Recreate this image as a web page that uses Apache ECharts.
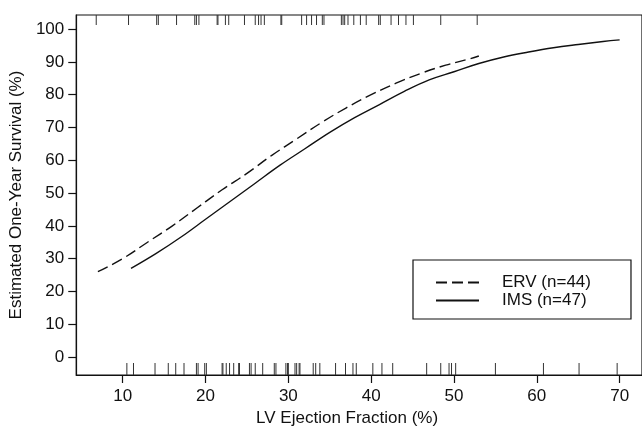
<!DOCTYPE html>
<html>
<head>
<meta charset="utf-8">
<script src="https://cdn.jsdelivr.net/npm/echarts@6/dist/echarts.min.js"></script>
<style>html,body{margin:0;padding:0;background:#fff}#c{width:642px;height:438px}</style>
</head>
<body>
<div id="c"></div>
<script>
// ---- data ----
const xTicks = [10, 20, 30, 40, 50, 60, 70];
const yTicks = [0, 10, 20, 30, 40, 50, 60, 70, 80, 90, 100];
const ervX = [7, 10, 13, 16, 19, 22, 25, 28, 31, 34, 37, 40, 43, 46, 49, 52, 53];
const ervY = [26, 30, 35, 40, 45.5, 51, 56, 61.5, 66.5, 71.5, 76, 80, 83.5, 86.5, 89, 91, 91.8];
const imsX = [11, 14, 17, 20, 23, 26, 29, 32, 35, 38, 41, 44, 47, 50, 53, 56, 59, 62, 65, 68, 70];
const imsY = [27, 31.5, 36.5, 42, 47.5, 53, 58.5, 63.5, 68.5, 73, 77, 81, 84.5, 87, 89.5, 91.5, 93, 94.3, 95.3, 96.2, 96.7];
const topRug = [6.8, 10.7, 14.1, 14.3, 16.5, 18.7, 18.9, 19.2, 21.4, 21.5, 22.4, 22.8, 24.7, 26.0, 26.4, 26.7, 27.1, 29.1, 29.2, 31.6, 32.2, 32.8, 33.4, 34.1, 34.3, 36.4, 36.6, 36.8, 37.2, 37.9, 38.7, 39.4, 40.9, 41.1, 42.4, 43.3, 44.2, 45.1, 48.4, 52.8];
const bottomRug = [10.5, 11.3, 13.9, 15.5, 16.4, 17.4, 18.9, 19.1, 19.9, 20.1, 22.0, 22.1, 22.5, 22.9, 23.4, 24.0, 24.1, 25.3, 25.5, 26.0, 26.9, 28.3, 28.5, 29.7, 29.9, 30.0, 30.8, 31.0, 31.3, 31.4, 33.0, 33.3, 33.8, 35.7, 36.9, 37.8, 38.2, 40.2, 41.3, 42.6, 46.7, 48.4, 49.4, 49.7, 50.2, 55.0, 60.8, 65.1, 69.7];
const seriesNames = ['ERV (n=44)', 'IMS (n=47)'];

// ---- chart ----
const X_MIN = 4.39, X_MAX = 72.7, Y_MIN = -5.5, Y_MAX = 104.3;
const FONT = 'Liberation Sans, Arial, Helvetica, sans-serif';
const INK = '#111';
const chart = echarts.init(document.getElementById('c'), null, {renderer: 'canvas'});

function rug(dir, len) {
  return function (params, api) {
    const p = api.coord([api.value(0), api.value(1)]);
    return {
      type: 'line',
      shape: {x1: p[0], y1: p[1], x2: p[0], y2: p[1] + dir * len},
      style: {stroke: '#333', lineWidth: 1}
    };
  };
}

chart.setOption({
  animation: false,
  backgroundColor: '#fff',
  grid: {left: 71, top: 15, right: -5, bottom: 63, show: true, borderColor: INK, borderWidth: 1.2, containLabel: false},
  legend: {
    data: seriesNames,
    orient: 'vertical',
    left: 413, top: 260,
    padding: [14, 40, 10, 22],
    itemWidth: 43, itemHeight: 14, itemGap: 1,
    borderColor: INK, borderWidth: 1.2, backgroundColor: '#fff',
    itemStyle: {opacity: 0, borderWidth: 0},
    textStyle: {fontFamily: FONT, fontSize: 17, lineHeight: 17, color: INK, padding: [0, 0, 0, 18]}
  },
  xAxis: {
    type: 'value', min: X_MIN, max: X_MAX,
    name: 'LV Ejection Fraction (%)', nameLocation: 'middle', nameGap: 32,
    nameTextStyle: {fontFamily: FONT, fontSize: 17, color: INK, padding: [0, 24, 0, 0]},
    axisLine: {show: true, onZero: false, lineStyle: {color: INK, width: 1.2}},
    axisTick: {show: true, inside: false, length: 8, customValues: xTicks, lineStyle: {color: INK, width: 1.2}},
    axisLabel: {customValues: xTicks, fontFamily: FONT, fontSize: 17, color: INK, margin: 13},
    splitLine: {show: false}
  },
  yAxis: {
    type: 'value', min: Y_MIN, max: Y_MAX,
    name: 'Estimated One-Year Survival (%)', nameLocation: 'middle', nameGap: 40,
    nameTextStyle: {fontFamily: FONT, fontSize: 17, color: INK},
    axisLine: {show: true, onZero: false, lineStyle: {color: INK, width: 1.2}},
    axisTick: {show: true, inside: false, length: 8, customValues: yTicks, lineStyle: {color: INK, width: 1.2}},
    axisLabel: {customValues: yTicks, fontFamily: FONT, fontSize: 17, color: INK, margin: 12},
    splitLine: {show: false}
  },
  series: [
    {
      name: seriesNames[0], type: 'line', smooth: 0.4, showSymbol: false, symbol: 'none',
      data: ervX.map((x, i) => [x, ervY[i]]),
      lineStyle: {color: INK, width: 1.4, type: [11, 5]}, itemStyle: {color: INK}
    },
    {
      name: seriesNames[1], type: 'line', smooth: 0.4, showSymbol: false, symbol: 'none',
      data: imsX.map((x, i) => [x, imsY[i]]),
      lineStyle: {color: INK, width: 1.4, type: 'solid'}, itemStyle: {color: INK}
    },
    {
      type: 'custom', silent: true,
      data: topRug.map(v => [v, Y_MAX]),
      renderItem: rug(1, 10)
    },
    {
      type: 'custom', silent: true,
      data: bottomRug.map(v => [v, Y_MIN]),
      renderItem: rug(-1, 12)
    }
  ]
});
</script>
</body>
</html>
